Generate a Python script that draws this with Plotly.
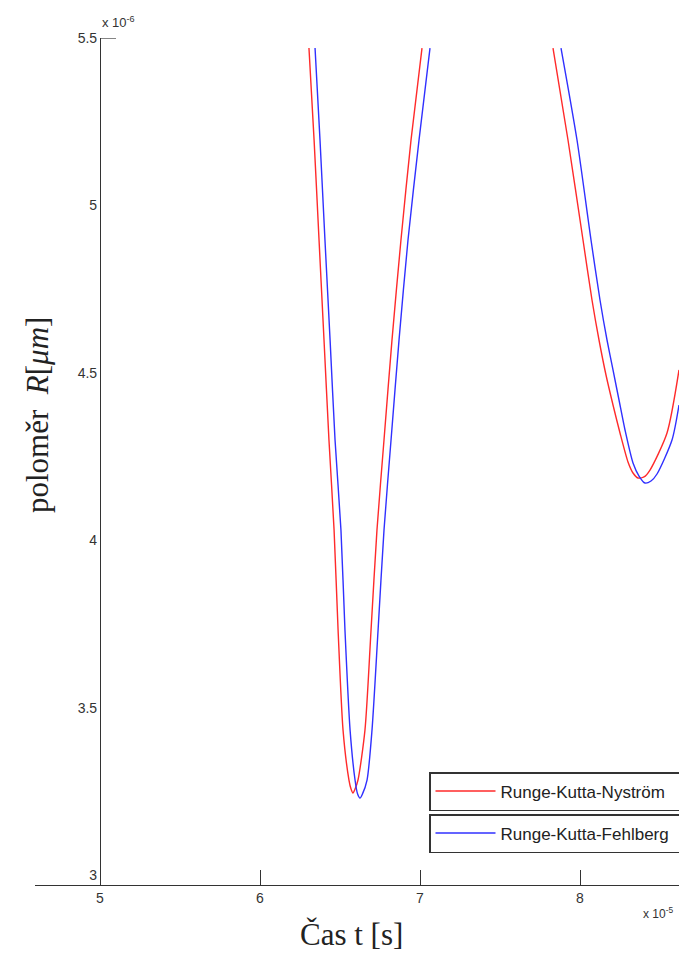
import plotly.graph_objects as go

# time in units of 1e-5 s, radius in units of 1e-6 m
t_rkn = [6.306, 6.338, 6.369, 6.400, 6.431, 6.463, 6.488, 6.519, 6.556, 6.569, 6.581, 6.594, 6.6125, 6.656, 6.694, 6.731, 6.775, 6.825, 6.881, 6.944, 7.0125,
         None,
         7.8313, 7.925, 8.0188, 8.075, 8.1188, 8.1625, 8.2063, 8.25, 8.30, 8.3313, 8.3625, 8.40, 8.4375, 8.5438, 8.6188]
r_rkn = [5.470, 5.196, 4.897, 4.599, 4.300, 4.031, 3.733, 3.434, 3.285, 3.258, 3.246, 3.258, 3.285, 3.434, 3.733, 4.031, 4.300, 4.599, 4.897, 5.196, 5.470,
         None,
         5.4701, 5.1955, 4.8970, 4.7179, 4.5985, 4.4940, 4.4045, 4.3209, 4.2343, 4.2015, 4.1866, 4.1896, 4.2104, 4.3209, 4.5090]

t_rkf = [6.344, 6.375, 6.406, 6.438, 6.469, 6.506, 6.531, 6.563, 6.594, 6.610, 6.625, 6.640, 6.669, 6.700, 6.738, 6.775, 6.819, 6.869, 6.925, 6.994, 7.0625,
         None,
         7.8813, 7.9813, 8.0688, 8.125, 8.1688, 8.2063, 8.2438, 8.2813, 8.3313, 8.3688, 8.4063, 8.4438, 8.4813, 8.575, 8.6188]
r_rkf = [5.470, 5.196, 4.897, 4.599, 4.300, 4.031, 3.733, 3.434, 3.285, 3.243, 3.231, 3.243, 3.285, 3.434, 3.733, 4.031, 4.300, 4.599, 4.897, 5.196, 5.470,
         None,
         5.4701, 5.1955, 4.8970, 4.7179, 4.5985, 4.5090, 4.4194, 4.3299, 4.2313, 4.1925, 4.1716, 4.1776, 4.1985, 4.3000, 4.4045]

x_ticks = [5, 6, 7, 8]
y_ticks = [3, 3.5, 4, 4.5, 5, 5.5]
y_tick_text = ["3", "3.5", "4", "4.5", "5", "5.5"]

W, H = 679, 955
L, R, T, B = 35, 0, 38, 70
pw, ph = W - L - R, H - T - B
x_rng = [5 - 65 / 160, 5 + 579 / 160]
y_rng = [5.5 - 847 / 335, 5.5]

fig = go.Figure()
fig.add_trace(go.Scatter(x=t_rkn, y=r_rkn, mode="lines", name="Runge-Kutta-Nyström",
                         line=dict(color="#ff2a2a", width=1.4, shape="spline", smoothing=0.7),
                         connectgaps=False, legend="legend"))
fig.add_trace(go.Scatter(x=t_rkf, y=r_rkf, mode="lines", name="Runge-Kutta-Fehlberg",
                         line=dict(color="#3030ff", width=1.4, shape="spline", smoothing=0.7),
                         connectgaps=False, legend="legend2"))

tickfont = dict(family="Liberation Sans, Arial", size=14, color="#333")
legfont = dict(family="Liberation Sans, Arial", size=17, color="#222")
fig.update_layout(
    width=W, height=H,
    margin=dict(l=L, r=R, t=T, b=B, pad=0, autoexpand=False),
    paper_bgcolor="white", plot_bgcolor="white",
    xaxis=dict(range=x_rng, showgrid=False, zeroline=False, showline=True,
               linecolor="#333", linewidth=1.2, ticks="inside", ticklen=15,
               tickcolor="#333", tickwidth=1.2, tickvals=x_ticks,
               ticktext=[str(v) for v in x_ticks], tickfont=tickfont),
    yaxis=dict(range=y_rng, showgrid=False, zeroline=False, showline=True,
               linecolor="#333", linewidth=1.2, ticks="", tickvals=y_ticks,
               ticktext=y_tick_text, tickfont=tickfont,
               anchor="free", position=(100 - L) / pw),
    legend=dict(x=(429 - L) / pw, xanchor="left", y=(885 - 772) / ph, yanchor="top",
                orientation="h", entrywidth=300,
                bgcolor="white", bordercolor="#333", borderwidth=1.5,
                font=legfont, itemwidth=60),
    legend2=dict(x=(429 - L) / pw, xanchor="left", y=(885 - 814) / ph, yanchor="top",
                 orientation="h", entrywidth=300,
                 bgcolor="white", bordercolor="#333", borderwidth=1.5,
                 font=legfont, itemwidth=60),
    showlegend=True,
)

fig.add_shape(type="line", xref="x", yref="y", x0=5, x1=5 + 16 / 160, y0=5.5, y1=5.5,
              line=dict(color="#333", width=1.2))

fig.add_annotation(xref="paper", yref="paper", x=(100 - L) / pw, y=1 + (38 - 22) / ph,
                   xanchor="left", yanchor="middle", showarrow=False,
                   text="x 10<sup>-6</sup>",
                   font=dict(family="Liberation Sans, Arial", size=13, color="#333"))
fig.add_annotation(xref="paper", yref="paper", x=(641 - L) / pw, y=-(913 - 885) / ph,
                   xanchor="left", yanchor="middle", showarrow=False,
                   text="x 10<sup>-5</sup>",
                   font=dict(family="Liberation Sans, Arial", size=12, color="#333"))
fig.add_annotation(xref="paper", yref="paper", x=(351 - L) / pw, y=-(934 - 885) / ph,
                   xanchor="center", yanchor="middle", showarrow=False,
                   text="Čas t [s]",
                   font=dict(family="Liberation Serif, Times New Roman", size=31, color="#222"))
fig.add_annotation(xref="paper", yref="paper", x=-(L - 37) / pw, y=1 - (415 - T) / ph,
                   xanchor="center", yanchor="middle", showarrow=False, textangle=-90,
                   text="poloměr &nbsp;<i>R</i>[<i>μm</i>]",
                   font=dict(family="Liberation Serif, Times New Roman", size=31, color="#222"))

fig.write_html("out.html")
